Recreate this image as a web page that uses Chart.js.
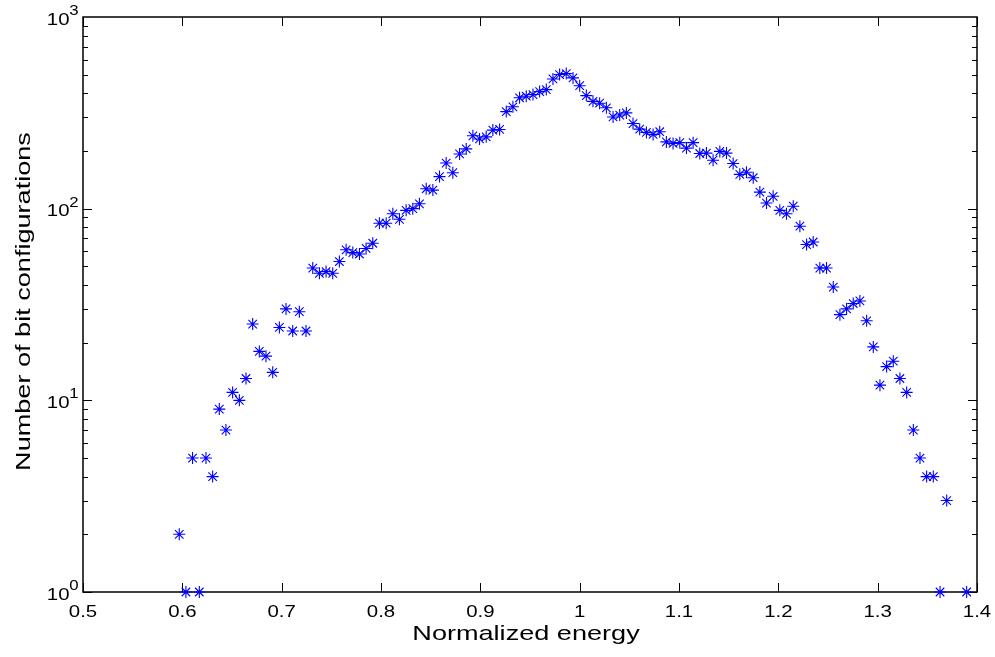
<!DOCTYPE html>
<html>
<head>
<meta charset="utf-8">
<script src="https://cdn.jsdelivr.net/npm/chart.js@4.4.1/dist/chart.umd.min.js"></script>
<style>
  html, body { margin: 0; padding: 0; background: #ffffff; }
  #wrap { width: 995px; height: 657px; }
</style>
</head>
<body>
<div id="wrap"><canvas id="c" width="995" height="657"></canvas></div>
<script>
// ---- data ----
const energies = [
  0.5969, 0.6036, 0.6103, 0.6171, 0.6238, 0.6305, 0.6372, 0.6439, 0.6506, 0.6574,
  0.6641, 0.6708, 0.6775, 0.6842, 0.6910, 0.6977, 0.7044, 0.7111, 0.7178, 0.7245,
  0.7313, 0.7380, 0.7447, 0.7514, 0.7581, 0.7649, 0.7716, 0.7783, 0.7850, 0.7917,
  0.7984, 0.8052, 0.8119, 0.8186, 0.8253, 0.8320, 0.8387, 0.8455, 0.8522, 0.8589,
  0.8656, 0.8723, 0.8791, 0.8858, 0.8925, 0.8992, 0.9059, 0.9126, 0.9194, 0.9261,
  0.9328, 0.9395, 0.9462, 0.9530, 0.9597, 0.9664, 0.9731, 0.9798, 0.9865, 0.9933,
  1.0000, 1.0067, 1.0134, 1.0201, 1.0269, 1.0336, 1.0403, 1.0470, 1.0537, 1.0604,
  1.0672, 1.0739, 1.0806, 1.0873, 1.0940, 1.1008, 1.1075, 1.1142, 1.1209, 1.1276,
  1.1343, 1.1411, 1.1478, 1.1545, 1.1612, 1.1679, 1.1747, 1.1814, 1.1881, 1.1948,
  1.2015, 1.2082, 1.2150, 1.2217, 1.2284, 1.2351, 1.2418, 1.2485, 1.2553, 1.2620,
  1.2687, 1.2754, 1.2821, 1.2889, 1.2956, 1.3023, 1.3090, 1.3157, 1.3224, 1.3292,
  1.3359, 1.3426, 1.3493, 1.3560, 1.3628, 1.3695, 1.3896
];
const counts = [
  2, 1, 5, 1, 5, 4, 9, 7, 11, 10,
  13, 25, 18, 17, 14, 24, 30, 23, 29, 23,
  49, 46, 47, 46, 53, 61, 59, 58, 62, 66,
  84, 84, 94, 88, 98, 100, 106, 127, 125, 147,
  173, 154, 193, 205, 240, 231, 237, 257, 259, 321,
  340, 379, 386, 394, 408, 418, 475, 501, 507, 481,
  438, 389, 363, 355, 336, 301, 308, 316, 278, 260,
  250, 244, 252, 223, 219, 221, 207, 221, 194, 195,
  179, 199, 195, 172, 151, 155, 145, 122, 107, 116,
  98, 94, 103, 81, 65, 67, 49, 49, 39, 28,
  30, 32, 33, 26, 19, 12, 15, 16, 13, 11,
  7, 5, 4, 4, 1, 3, 1
];
const xTicks = [0.5, 0.6, 0.7, 0.8, 0.9, 1.0, 1.1, 1.2, 1.3, 1.4];
const xTickLabels = ['0.5', '0.6', '0.7', '0.8', '0.9', '1', '1.1', '1.2', '1.3', '1.4'];
const yMajorTicks = [1, 10, 100, 1000];
const yTickExponents = ['0', '1', '2', '3'];
const xTitle = 'Normalized energy';
const yTitle = 'Number of bit configurations';

const FONT = '"Liberation Sans", Arial, Helvetica, sans-serif';

function drawText(ctx, s, x, y, size, align, sx, rot) {
  ctx.save();
  ctx.translate(x, y);
  if (rot) ctx.rotate(rot);
  ctx.scale(sx, 1);
  ctx.font = size + 'px ' + FONT;
  ctx.textAlign = align;
  ctx.textBaseline = 'alphabetic';
  ctx.fillStyle = '#000000';
  ctx.fillText(s, 0, 0);
  ctx.restore();
}

const matlabAxes = {
  id: 'matlabAxes',
  beforeDatasetsDraw(chart) {
    const ctx = chart.ctx;
    const { left, right, top, bottom } = chart.chartArea;
    const xs = chart.scales.x, ys = chart.scales.y;
    ctx.save();
    // ticks (inward, on all four sides)
    ctx.strokeStyle = '#000000';
    ctx.lineWidth = 1;
    ctx.beginPath();
    xTicks.forEach(v => {
      const px = Math.round(xs.getPixelForValue(v)) + 0.5;
      ctx.moveTo(px, bottom); ctx.lineTo(px, bottom - 9);
      ctx.moveTo(px, top); ctx.lineTo(px, top + 9);
    });
    for (let k = 0; k < yMajorTicks.length - 1; k++) {
      for (let m = 1; m <= 9; m++) {
        const v = yMajorTicks[k] * m;
        const py = Math.round(ys.getPixelForValue(v)) + 0.5;
        const len = m === 1 ? 9 : 5;
        ctx.moveTo(left, py); ctx.lineTo(left + len, py);
        ctx.moveTo(right, py); ctx.lineTo(right - len, py);
      }
    }
    ctx.stroke();
    // box
    ctx.lineWidth = 1.5;
    ctx.strokeRect(left, top, right - left, bottom - top);
    ctx.restore();

    // x tick labels
    xTicks.forEach((v, i) => {
      const px = xs.getPixelForValue(v);
      drawText(ctx, xTickLabels[i], px, bottom + 24.5, 17, 'center', 1.2);
    });
    // y tick labels 10^k
    yMajorTicks.forEach((v, i) => {
      const py = ys.getPixelForValue(v);
      drawText(ctx, '10', 69.5, py + 7.5, 17, 'right', 1.2);
      drawText(ctx, yTickExponents[i], 69.2, py - 2, 14, 'left', 1.2);
    });
    // axis titles
    drawText(ctx, xTitle, (left + right) / 2 - 4, 639.5, 21, 'center', 1.29);
    drawText(ctx, yTitle, 29.5, (top + bottom) / 2 - 3, 21, 'center', 1.29, -Math.PI / 2);
  }
};

new Chart(document.getElementById('c'), {
  type: 'scatter',
  data: {
    datasets: [{
      data: energies.map((e, i) => ({ x: e, y: counts[i] })),
      pointStyle: 'star',
      pointRadius: 6,
      pointHoverRadius: 6,
      borderColor: '#0000ff',
      backgroundColor: '#0000ff',
      pointBorderWidth: 1.1,
      showLine: false,
      clip: false
    }]
  },
  options: {
    responsive: false,
    animation: false,
    devicePixelRatio: 1,
    layout: { padding: { left: 83, right: 18, top: 17, bottom: 65 } },
    plugins: { legend: { display: false }, tooltip: { enabled: false } },
    scales: {
      x: {
        type: 'linear', min: 0.5, max: 1.4,
        ticks: { display: false },
        grid: { display: false },
        border: { display: false },
        afterFit(s) { s.height = 0; }
      },
      y: {
        type: 'logarithmic', min: 1, max: 1000,
        ticks: { display: false },
        grid: { display: false },
        border: { display: false },
        afterFit(s) { s.width = 0; }
      }
    }
  },
  plugins: [matlabAxes]
});
</script>
</body>
</html>
